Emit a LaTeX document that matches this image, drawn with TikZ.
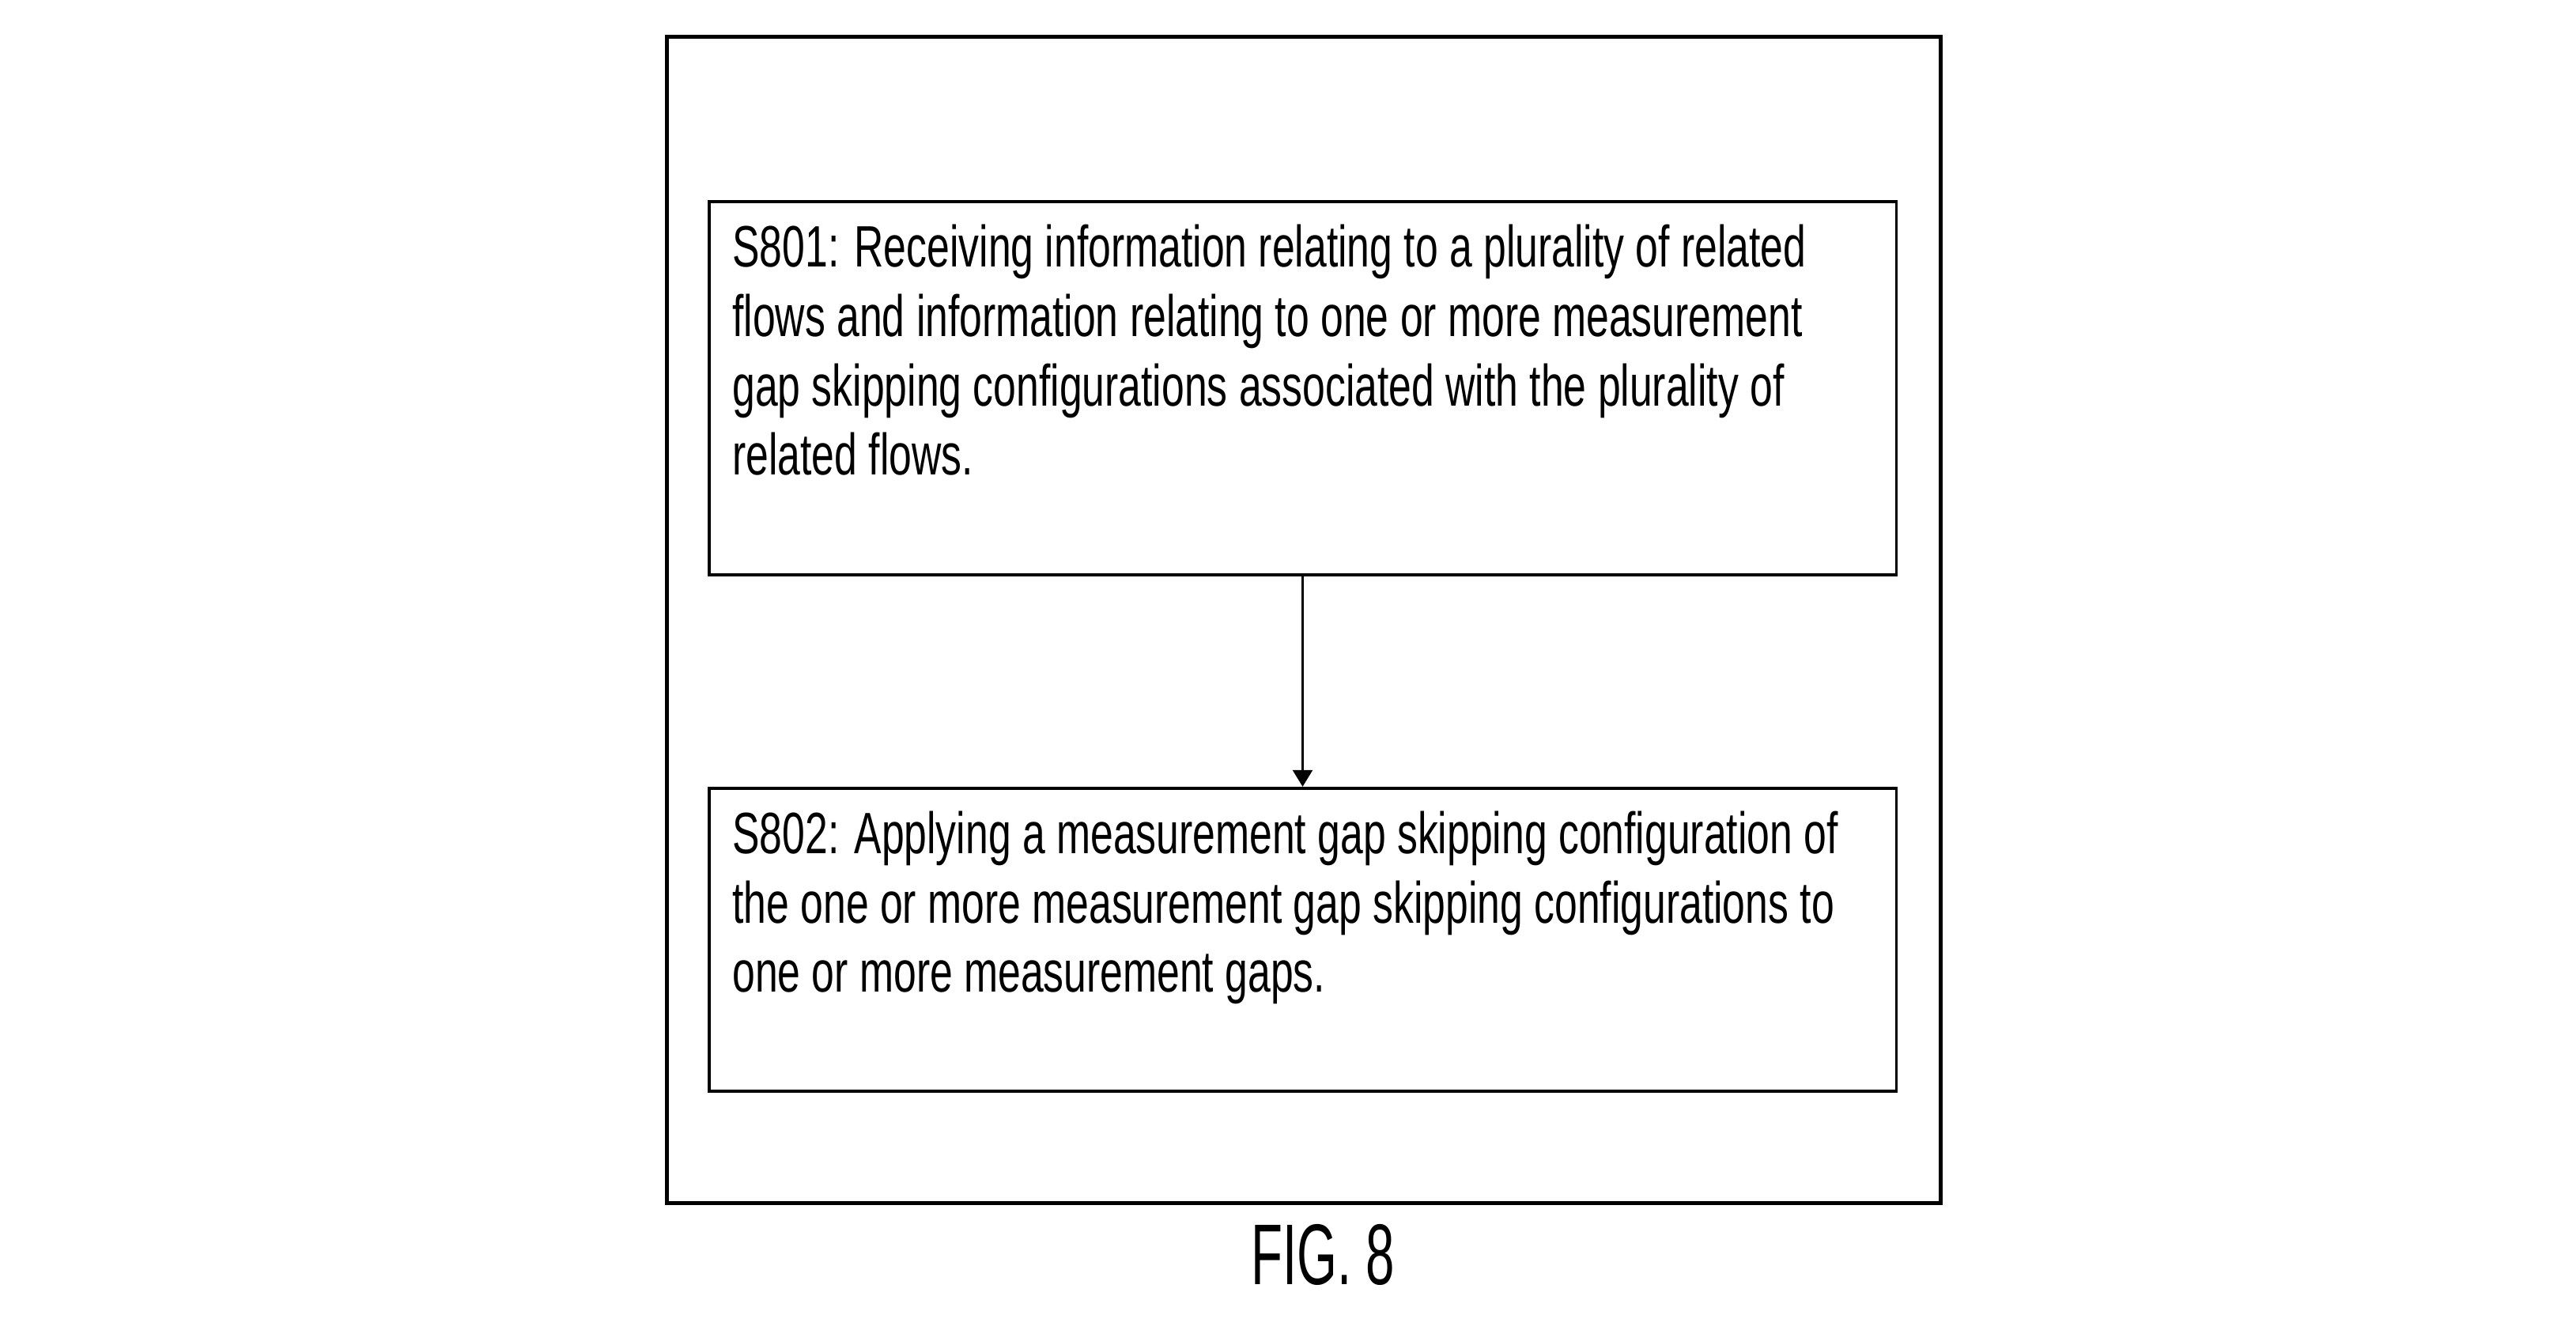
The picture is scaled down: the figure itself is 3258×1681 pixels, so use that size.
\documentclass[tikz,border=0pt]{standalone}
\usepackage{fontspec}
\setmainfont{Liberation Sans}[FakeStretch=0.7]
\newfontfamily\figlabelfont{Liberation Sans}[FakeStretch=0.6]
\usetikzlibrary{arrows.meta}

\tikzset{
  stepbox/.style={draw,line width=1.1pt,minimum width=15.01cm,inner sep=0pt},
  steptext/.style={anchor=base west,align=left,inner sep=0pt,
    font=\fontsize{21}{25}\selectfont},
}

\begin{document}
\begin{tikzpicture}[x=0.01cm,y=0.01cm,>={Triangle[width=7pt,length=6pt]}]
  \useasboundingbox (0,0) rectangle (3258,1681);
  \node[draw,line width=1.3pt,minimum width=16.1cm,minimum height=14.74cm] (frame) at (1649,897) {};
  \node[stepbox,minimum height=4.72cm] (s801) at (1647.5,1190) {};
  \node[stepbox,minimum height=3.83cm] (s802) at (1647.5,492.5) {};
  % anchor is the baseline of the last line
  \node[steptext] (t801) at ([shift={(31,-348)}]s801.north west)
    {S801: Receiving information relating to a plurality of related\\
     flows and information relating to one or more measurement\\
     gap skipping configurations associated with the plurality of\\
     related flows.};
  \node[steptext] (t802) at ([shift={(31,-260)}]s802.north west)
    {S802: Applying a measurement gap skipping configuration of\\
     the one or more measurement gap skipping configurations to\\
     one or more measurement gaps.};
  \draw[->,line width=1.1pt] (s801) -- (s802);
  \node[anchor=base,inner sep=0pt,font=\figlabelfont\fontsize{31}{36}\selectfont] (fig) at (1673,57) {FIG. 8};
\end{tikzpicture}
\end{document}
